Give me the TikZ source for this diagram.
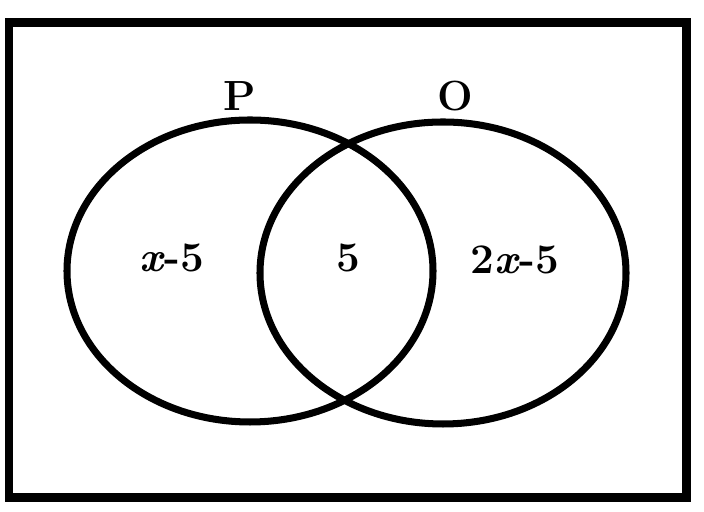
\documentclass[tikz,border=0pt]{standalone}
\usepackage{amsmath,amssymb}
\usepackage{tikz}
\usetikzlibrary{positioning}

\tikzset{
  setline/.style={line width=5pt},
  setlabel/.style={font=\fontsize{30}{32}\selectfont\bfseries,inner sep=0pt}
}

\begin{document}
\begin{tikzpicture}
  \useasboundingbox (0,0) rectangle (17.6,12.8);
  \draw[line width=6.4pt] (0.225,0.35) rectangle (17.15,12.225);
  \draw[setline] (6.25,6.025) ellipse [x radius=4.575,y radius=3.775];
  \draw[setline] (11.075,5.975) ellipse [x radius=4.575,y radius=3.775];
  \node[setlabel] (P) at (6.0,10.4) {P};
  \node[setlabel] (Q) at (11.375,10.4) {O};
  \node[setlabel] (Ponly) at (4.3,6.35) {\textit{x}-5};
  \node[setlabel] (PQ) at (8.7,6.35) {5};
  \node[setlabel] (Qonly) at (12.875,6.3) {2\textit{x}-5};
\end{tikzpicture}
\end{document}
